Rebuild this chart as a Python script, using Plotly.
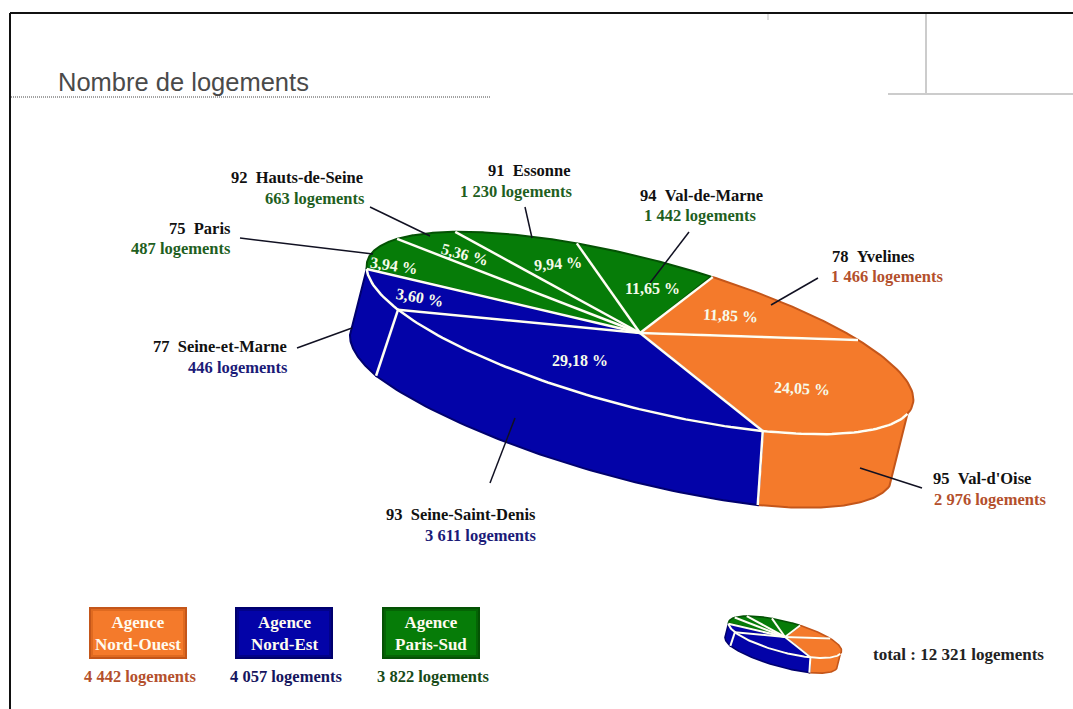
import numpy as np
import plotly.graph_objects as go

# --- data ---
departements = ["78  Yvelines", "95  Val-d'Oise", "93  Seine-Saint-Denis", "77  Seine-et-Marne",
                "75  Paris", "92  Hauts-de-Seine", "91  Essonne", "94  Val-de-Marne"]
logements = ["1 466", "2 976", "3 611", "446", "487", "663", "1 230", "1 442"]
percent_labels = ["11,85 %", "24,05 %", "29,18 %", "3,60 %", "3,94 %", "5,36 %", "9,94 %", "11,65 %"]
# The source drawing is not proportional: these are the shares of the ellipse each
# slice visibly occupies in the picture (percent), not the printed percentages.
drawn_share = [10.4, 27.9, 24.7, 7.2, 8.1, 5.6, 8.1, 7.9]
agency_of_slice = [0, 0, 1, 1, 2, 2, 2, 2]
agencies = ["Agence<br>Nord-Ouest", "Agence<br>Nord-Est", "Agence<br>Paris-Sud"]
agency_totals = ["4 442 logements", "4 057 logements", "3 822 logements"]
total_label = "total : 12 321 logements"
title_text = "Nombre de logements"

# --- styles ---
FILL = ["#F47A2B", "#0303A8", "#067C08"]
MID = ["#DF6A20", "#020288", "#056405"]
EDGE = ["#C4561A", "#00006E", "#045204"]
TEXT = ["#B4502C", "#1B1B78", "#1F5F1F"]
AG_TEXT = ["#B4502C", "#15155E", "#174A17"]
SERIF = "Liberation Serif"
WHITE = "#FFFFF4"

# --- projection of the disc ---
CX, CY, A, B = 640.0, 333.0, 282.0, 74.0
TILT = np.radians(14.7)
START = -78.5
WALL_FROM, WALL_TO = 8.0, 174.2


def rim(t_deg):
    t = np.radians(np.asarray(t_deg, dtype=float))
    u, v = A * np.cos(t), B * np.sin(t)
    return u * np.cos(TILT) - v * np.sin(TILT), u * np.sin(TILT) + v * np.cos(TILT)


def drop(t_deg):
    dx = np.interp(t_deg, [8, 59.5, 148.6, 178], [-18, -5, -22, -16])
    dy = np.interp(t_deg, [8, 59.5, 148.6, 178], [72, 74, 66, 66])
    return dx, dy


fig = go.Figure()


def add_poly(x, y, fill=None, line="white", width=1.0):
    fig.add_trace(go.Scatter(x=x, y=y, mode="lines", fill="toself" if fill else None,
                             fillcolor=fill, line=dict(color=line, width=width),
                             hoverinfo="skip", showlegend=False))


def draw_pie(ox, oy, k, lw):
    edges = START + np.cumsum([0] + drawn_share) * 3.6
    X = lambda p: ox + np.asarray(p) * k
    Y = lambda p: oy + np.asarray(p) * k
    # walls
    for i in range(8):
        lo, hi = max(edges[i], WALL_FROM), min(edges[i + 1], WALL_TO)
        if hi <= lo + 0.01:
            continue
        t = np.linspace(lo, hi, 60)
        x, y = rim(t)
        dx, dy = drop(t)
        px = np.r_[x, (x + dx)[::-1], x[0]]
        py = np.r_[y, (y + dy)[::-1], y[0]]
        c = agency_of_slice[i]
        add_poly(X(px), Y(py), FILL[c], EDGE[c], 2 * lw)
    # top slices
    for i in range(8):
        t = np.linspace(edges[i], edges[i + 1], 60)
        x, y = rim(t)
        c = agency_of_slice[i]
        add_poly(X(np.r_[0, x, 0]), Y(np.r_[0, y, 0]), FILL[c], EDGE[c], 2 * lw)
    # white separators
    for i in range(8):
        x, y = rim(edges[i])
        add_poly(X([0, float(x)]), Y([0, float(y)]), None, WHITE, 2.5 * lw)
    t = np.linspace(WALL_FROM, WALL_TO, 120)
    x, y = rim(t)
    add_poly(X(x), Y(y), None, WHITE, 2.5 * lw)
    for i in range(8):
        if WALL_FROM < edges[i] < WALL_TO - 0.01:
            x, y = rim(edges[i])
            dx, dy = drop(edges[i])
            add_poly(X([float(x), float(x + dx)]), Y([float(y), float(y + dy)]), None, WHITE, 2.5 * lw)


draw_pie(CX, CY, 1.0, 1.0)
draw_pie(785.0, 637.0, 0.207, 0.8)

# leader lines (start, end) for each slice
leaders = [((818, 278), (771, 305)), ((922, 488), (860, 468)), ((490, 483), (515, 418)),
           ((297, 348), (352, 328)), ((240, 238), (373, 254)), ((370, 207), (430, 236)),
           ((525, 207), (532, 238)), ((689, 232), (650, 283))]
for a, b in leaders:
    add_poly([a[0], b[0]], [a[1], b[1]], None, "#111122", 1.5)


def text(x, y, s, size=16.5, color="black", anchor="center", family=SERIF, angle=0, bold=True):
    fig.add_annotation(x=x, y=y, text=f"<b>{s}</b>" if bold else s, showarrow=False,
                       xanchor=anchor, yanchor="middle", textangle=angle, align="center",
                       font=dict(family=family, size=size, color=color))


# department labels: right edge x of line 2, y of line 1, y of line 2, right edge x of line 1
label_pos = [(945, 256, 276, 917), (1048, 478, 499, 1033), (538, 514, 535, 538), (290, 346, 367, 289),
             (233, 228, 248, 233), (367, 177, 198, 365), (574, 170, 191, 573), (758, 195, 215, 765)]
for i, (xr2, y1, y2, xr1) in enumerate(label_pos):
    c = agency_of_slice[i]
    text(xr1, y1, departements[i].replace("  ", "\u00a0\u00a0"), 16.5, "#111", "right")
    text(xr2, y2, logements[i].replace(" ", "\u00a0") + " logements", 16.5, TEXT[c], "right")

pct_pos = [(730, 315, 3), (802, 388, 3), (580, 360, 0), (420, 297, 10), (394, 265, 8),
           (465, 254, 15), (558, 263, -4), (652, 288, 0)]
for s, (x, y, ang) in zip(percent_labels, pct_pos):
    text(x, y, s, 16, "#F6FBEA", angle=ang)

# agency legend boxes
box_x = [89, 235, 382]
shapes = []
for i, x0 in enumerate(box_x):
    shapes.append(dict(type="rect", x0=x0, x1=x0 + 98, y0=607, y1=659, fillcolor=EDGE[i], line_width=0, layer="below"))
    shapes.append(dict(type="rect", x0=x0 + 2, x1=x0 + 96, y0=609, y1=657, fillcolor=MID[i], line_width=0, layer="below"))
    shapes.append(dict(type="rect", x0=x0 + 4, x1=x0 + 94, y0=611, y1=655, fillcolor=FILL[i], line_width=0, layer="below"))
    fig.add_annotation(x=x0 + 49, y=633, text=f"<b>{agencies[i]}</b>", showarrow=False, align="center",
                       font=dict(family=SERIF, size=17, color="#FFFBEF"))
    text(x0 + 51, 676, agency_totals[i].replace(" ", "\u00a0"), 16.5, AG_TEXT[i])

text(958, 654, total_label.replace(" ", "\u00a0"), 17, "#222")

# frame and title
text(56, 82, title_text, 25.5, "#4A4A4A", "left", "Liberation Sans", bold=False)
line = lambda x0, y0, x1, y1, c, w, dash="solid": dict(type="line", x0=x0, y0=y0, x1=x1, y1=y1,
                                                       line=dict(color=c, width=w, dash=dash), layer="below")
shapes += [
    line(10, 13, 1073, 13, "#111", 2),
    line(10, 13, 10, 709, "#111", 2),
    line(11, 97, 490, 97, "#444", 1, "1px,1px"),
    line(926, 14, 926, 94, "#CCCCCC", 2),
    line(888, 94, 1073, 94, "#CCCCCC", 2),
    line(768, 14, 768, 20, "#D5D5D5", 1.5),
]

fig.update_layout(width=1073, height=709, margin=dict(l=0, r=0, t=0, b=0),
                  paper_bgcolor="white", plot_bgcolor="white", shapes=shapes, showlegend=False,
                  xaxis=dict(range=[0, 1073], visible=False, fixedrange=True),
                  yaxis=dict(range=[709, 0], visible=False, fixedrange=True))
fig.write_html("out.html", config=dict(displayModeBar=False),
               post_script="document.body.style.margin='0';document.body.style.overflow='hidden';")
